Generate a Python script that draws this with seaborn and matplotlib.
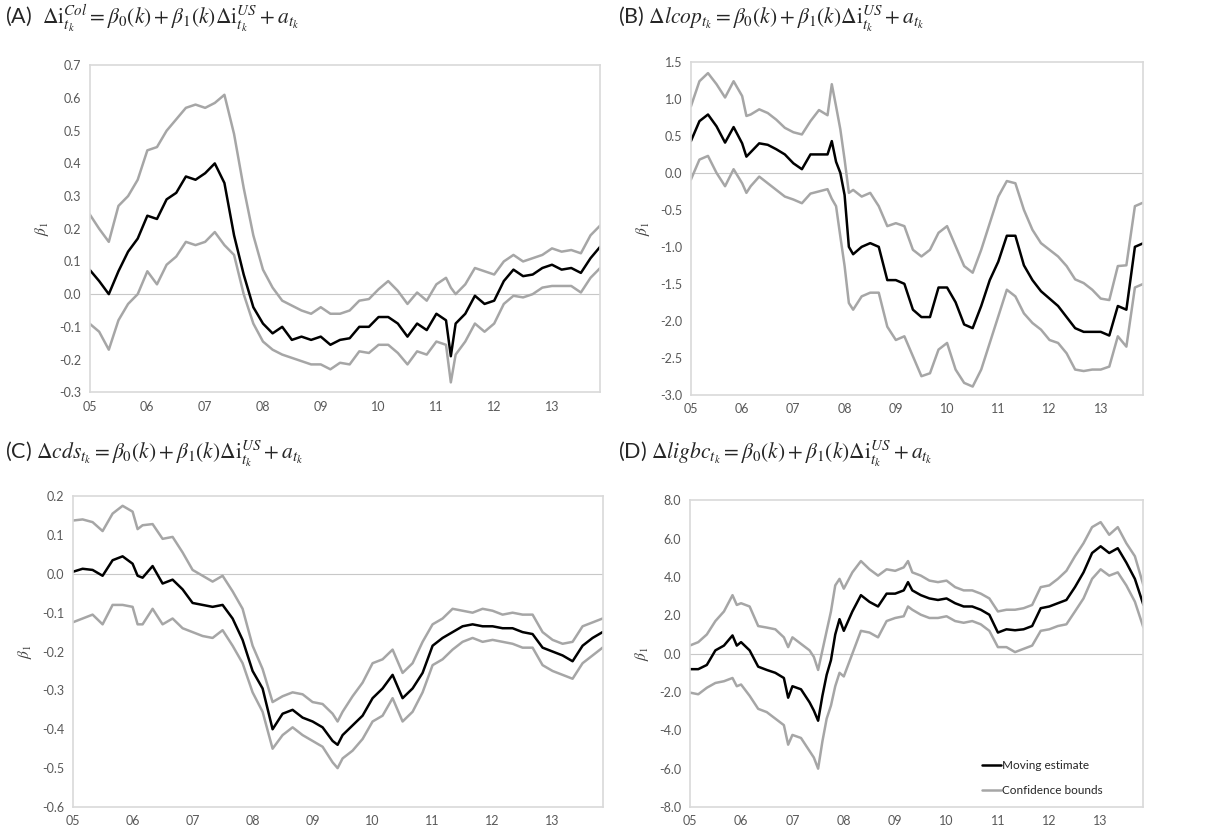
import pandas as pd
import seaborn as sns
import matplotlib.pyplot as plt
import matplotlib.ticker as ticker

# x = months since Jan 2005
year_ticks = [0, 12, 24, 36, 48, 60, 72, 84, 96]
year_labels = ['05', '06', '07', '08', '09', '10', '11', '12', '13']

# (A) colombian rate
a_months = [0, 2, 4, 6, 8, 10, 12, 14, 16, 18, 20, 22, 24, 26, 28, 30, 32, 34, 36, 38,
            40, 42, 44, 46, 48, 50, 52, 54, 56, 58, 60, 62, 64, 66, 68, 70, 72, 74, 75,
            76, 78, 80, 82, 84, 86, 88, 90, 92, 94, 96, 98, 100, 102, 104, 106]
a_est = [0.075, 0.04, 0.0, 0.07, 0.13, 0.17, 0.24, 0.23, 0.29, 0.31, 0.36, 0.35, 0.37, 0.40,
         0.34, 0.18, 0.06, -0.04, -0.09, -0.12, -0.10, -0.14, -0.13, -0.14, -0.13, -0.155,
         -0.14, -0.135, -0.10, -0.10, -0.07, -0.07, -0.09, -0.13, -0.09, -0.11, -0.06, -0.08,
         -0.19, -0.09, -0.06, -0.005, -0.03, -0.02, 0.04, 0.075, 0.055, 0.06, 0.08, 0.09,
         0.075, 0.08, 0.065, 0.11, 0.145]
a_up = [0.245, 0.20, 0.16, 0.27, 0.30, 0.35, 0.44, 0.45, 0.50, 0.535, 0.57, 0.58, 0.57, 0.585,
        0.61, 0.49, 0.325, 0.18, 0.075, 0.02, -0.02, -0.035, -0.05, -0.06, -0.04, -0.06,
        -0.06, -0.05, -0.02, -0.015, 0.015, 0.04, 0.01, -0.03, 0.005, -0.02, 0.03, 0.05,
        0.02, 0.0, 0.03, 0.08, 0.07, 0.06, 0.10, 0.12, 0.10, 0.11, 0.12, 0.14, 0.13, 0.135,
        0.125, 0.18, 0.21]
a_lo = [-0.09, -0.115, -0.17, -0.08, -0.03, 0.0, 0.07, 0.03, 0.09, 0.115, 0.16, 0.15, 0.16,
        0.19, 0.15, 0.12, 0.0, -0.09, -0.145, -0.17, -0.185, -0.195, -0.205, -0.215, -0.215,
        -0.23, -0.21, -0.215, -0.175, -0.18, -0.155, -0.155, -0.18, -0.215, -0.175, -0.185,
        -0.145, -0.155, -0.27, -0.185, -0.145, -0.09, -0.115, -0.09, -0.03, -0.005, -0.01,
        0.0, 0.02, 0.025, 0.025, 0.025, 0.005, 0.05, 0.08]

# (B) peso
b_months = [0, 2, 4, 6, 8, 10, 12, 13, 14, 16, 18, 20, 22, 24, 26, 28, 30, 32, 33, 34, 35,
            36, 37, 38, 40, 42, 44, 46, 48, 50, 52, 54, 56, 58, 60, 62, 64, 66, 68, 70, 72,
            74, 76, 78, 80, 82, 84, 86, 88, 90, 92, 94, 96, 98, 100, 102, 104, 106]
b_est = [0.43, 0.70, 0.79, 0.63, 0.41, 0.62, 0.40, 0.22, 0.28, 0.40, 0.38, 0.32, 0.25, 0.13,
         0.05, 0.25, 0.25, 0.25, 0.43, 0.15, 0.0, -0.3, -1.0, -1.1, -1.0, -0.95, -1.0, -1.45,
         -1.45, -1.5, -1.85, -1.95, -1.95, -1.55, -1.55, -1.75, -2.05, -2.1, -1.8, -1.45,
         -1.2, -0.85, -0.85, -1.25, -1.45, -1.6, -1.7, -1.8, -1.95, -2.1, -2.15, -2.15,
         -2.15, -2.2, -1.8, -1.85, -1.0, -0.95]
b_up = [0.90, 1.24, 1.35, 1.20, 1.02, 1.24, 1.04, 0.77, 0.79, 0.86, 0.81, 0.72, 0.61, 0.55,
        0.52, 0.70, 0.85, 0.78, 1.20, 0.90, 0.59, 0.18, -0.27, -0.23, -0.32, -0.27, -0.45,
        -0.72, -0.68, -0.72, -1.04, -1.13, -1.04, -0.81, -0.72, -0.99, -1.26, -1.35, -1.04,
        -0.68, -0.32, -0.11, -0.14, -0.50, -0.77, -0.95, -1.04, -1.13, -1.26, -1.44, -1.49,
        -1.58, -1.70, -1.72, -1.26, -1.25, -0.45, -0.40]
b_lo = [-0.09, 0.18, 0.23, 0.0, -0.18, 0.05, -0.14, -0.27, -0.18, -0.05, -0.14, -0.23, -0.32,
        -0.36, -0.41, -0.28, -0.25, -0.22, -0.35, -0.45, -0.86, -1.26, -1.76, -1.85, -1.67,
        -1.62, -1.62, -2.08, -2.26, -2.21, -2.48, -2.75, -2.71, -2.39, -2.30, -2.66, -2.84,
        -2.89, -2.66, -2.30, -1.94, -1.58, -1.67, -1.90, -2.03, -2.12, -2.26, -2.30, -2.44,
        -2.66, -2.68, -2.66, -2.66, -2.62, -2.21, -2.35, -1.55, -1.50]

# (C) cds
c_months = [0, 2, 4, 6, 8, 10, 12, 13, 14, 16, 18, 20, 22, 24, 26, 28, 30, 32, 34, 36, 38,
            40, 42, 44, 46, 48, 50, 52, 53, 54, 56, 58, 60, 62, 64, 66, 68, 70, 72, 74, 76,
            78, 80, 82, 84, 86, 88, 90, 92, 94, 96, 98, 100, 102, 104, 106]
c_est = [0.005, 0.013, 0.01, -0.005, 0.035, 0.045, 0.026, -0.005, -0.01, 0.02, -0.025,
         -0.015, -0.04, -0.075, -0.08, -0.085, -0.08, -0.115, -0.17, -0.25, -0.295, -0.40,
         -0.36, -0.35, -0.37, -0.38, -0.395, -0.43, -0.44, -0.415, -0.39, -0.365, -0.32,
         -0.295, -0.26, -0.32, -0.295, -0.255, -0.185, -0.165, -0.15, -0.135, -0.13, -0.135,
         -0.135, -0.14, -0.14, -0.15, -0.155, -0.19, -0.20, -0.21, -0.225, -0.185, -0.165,
         -0.15]
c_up = [0.137, 0.14, 0.133, 0.11, 0.155, 0.175, 0.16, 0.115, 0.125, 0.128, 0.09, 0.095,
        0.055, 0.01, -0.005, -0.02, -0.005, -0.045, -0.09, -0.185, -0.245, -0.33, -0.315,
        -0.305, -0.31, -0.33, -0.335, -0.36, -0.38, -0.355, -0.315, -0.28, -0.23, -0.22,
        -0.195, -0.255, -0.23, -0.175, -0.13, -0.115, -0.09, -0.095, -0.10, -0.09, -0.095,
        -0.105, -0.10, -0.105, -0.105, -0.15, -0.17, -0.18, -0.175, -0.135, -0.125, -0.115]
c_lo = [-0.125, -0.115, -0.105, -0.13, -0.08, -0.08, -0.085, -0.13, -0.13, -0.09, -0.13,
        -0.115, -0.14, -0.15, -0.16, -0.165, -0.145, -0.185, -0.23, -0.305, -0.355, -0.45,
        -0.415, -0.395, -0.415, -0.43, -0.445, -0.485, -0.50, -0.475, -0.455, -0.425, -0.38,
        -0.365, -0.32, -0.38, -0.355, -0.305, -0.235, -0.22, -0.195, -0.175, -0.165, -0.175,
        -0.17, -0.175, -0.18, -0.19, -0.19, -0.235, -0.25, -0.26, -0.27, -0.23, -0.21, -0.19]

# (D) igbc
d_months = [0, 2, 4, 6, 8, 10, 11, 12, 14, 16, 18, 20, 22, 23, 24, 26, 28, 29, 30, 31, 32,
            33, 34, 35, 36, 38, 40, 42, 44, 46, 48, 50, 51, 52, 54, 56, 58, 60, 62, 64, 66,
            68, 70, 72, 74, 76, 78, 80, 82, 84, 86, 88, 90, 92, 94, 96, 98, 100, 102, 104, 106]
d_est = [-0.81, -0.81, -0.59, 0.17, 0.42, 0.95, 0.42, 0.6, 0.17, -0.68, -0.85, -1.0, -1.27,
         -2.3, -1.7, -1.86, -2.54, -2.97, -3.5, -2.2, -1.1, -0.34, 1.0, 1.8, 1.19, 2.2, 3.05,
         2.7, 2.46, 3.13, 3.13, 3.3, 3.73, 3.3, 3.05, 2.88, 2.8, 2.88, 2.63, 2.46, 2.46, 2.29,
         2.03, 1.1, 1.27, 1.22, 1.27, 1.44, 2.37, 2.46, 2.63, 2.8, 3.47, 4.24, 5.25, 5.6, 5.25,
         5.5, 4.75, 3.9, 2.54]
d_up = [0.42, 0.6, 1.0, 1.7, 2.2, 3.05, 2.54, 2.63, 2.46, 1.44, 1.36, 1.27, 0.85, 0.34, 0.85,
        0.51, 0.17, -0.17, -0.85, 0.17, 1.19, 2.2, 3.56, 3.9, 3.39, 4.24, 4.83, 4.4, 4.07, 4.4,
        4.32, 4.5, 4.83, 4.24, 4.07, 3.81, 3.73, 3.81, 3.47, 3.3, 3.3, 3.13, 2.88, 2.2, 2.29,
        2.29, 2.37, 2.54, 3.47, 3.56, 3.9, 4.32, 5.08, 5.76, 6.6, 6.86, 6.2, 6.6, 5.76, 5.08,
        3.56]
d_lo = [-2.03, -2.12, -1.78, -1.53, -1.44, -1.27, -1.7, -1.61, -2.2, -2.88, -3.05, -3.39,
        -3.73, -4.75, -4.24, -4.4, -5.08, -5.42, -6.0, -4.58, -3.39, -2.71, -1.7, -1.0, -1.19,
        0.0, 1.19, 1.1, 0.85, 1.7, 1.86, 1.95, 2.46, 2.29, 2.03, 1.86, 1.86, 1.95, 1.7, 1.61,
        1.7, 1.53, 1.19, 0.34, 0.34, 0.08, 0.25, 0.42, 1.19, 1.27, 1.44, 1.53, 2.2, 2.88, 3.9,
        4.4, 4.07, 4.24, 3.56, 2.71, 1.36]

sns.set_style('white')
plt.rcParams['font.family'] = ['Lato', 'DejaVu Sans']
plt.rcParams['mathtext.fontset'] = 'stix'
plt.rcParams['axes.unicode_minus'] = False

black = '#000000'
grey = '#a6a6a6'
frame = '#d9d9d9'
txt = '#595959'

fig = plt.figure(figsize=(12.1, 8.38), dpi=100)

panels = [
    ('A', [0.074, 0.532, 0.422, 0.39], a_months, a_est, a_up, a_lo,
     (-0.3, 0.7), [-0.3, -0.2, -0.1, 0.0, 0.1, 0.2, 0.3, 0.4, 0.5, 0.6, 0.7]),
    ('B', [0.571, 0.529, 0.374, 0.397], b_months, b_est, b_up, b_lo,
     (-3.0, 1.5), [-3.0, -2.5, -2.0, -1.5, -1.0, -0.5, 0.0, 0.5, 1.0, 1.5]),
    ('C', [0.060, 0.037, 0.438, 0.371], c_months, c_est, c_up, c_lo,
     (-0.6, 0.2), [-0.6, -0.5, -0.4, -0.3, -0.2, -0.1, 0.0, 0.1, 0.2]),
    ('D', [0.570, 0.037, 0.375, 0.366], d_months, d_est, d_up, d_lo,
     (-8.0, 8.0), [-8.0, -6.0, -4.0, -2.0, 0.0, 2.0, 4.0, 6.0, 8.0]),
]

axes = {}
for name, rect, mo, est, up, lo, ylim, yt in panels:
    ax = fig.add_axes(rect)
    axes[name] = ax
    ax.axhline(0, color='#c8c8c8', lw=0.8, zorder=1)
    sns.lineplot(x=mo, y=up, ax=ax, color=grey, lw=1.8, label='Confidence bounds')
    sns.lineplot(x=mo, y=lo, ax=ax, color=grey, lw=1.8)
    sns.lineplot(x=mo, y=est, ax=ax, color=black, lw=1.8, label='Moving estimate')
    ax.set_xlim(0, 106)
    ax.set_ylim(*ylim)
    ax.set_xticks(year_ticks)
    ax.set_xticklabels(year_labels)
    ax.set_yticks(yt)
    ax.yaxis.set_major_formatter(ticker.FuncFormatter(lambda v, p: f'{v:.1f}'))
    ax.tick_params(length=0, labelsize=9, labelcolor=txt, pad=6)
    for s in ax.spines.values():
        s.set_color(frame)
        s.set_linewidth(1.2)
    ax.set_ylabel(r'$\beta_1$', fontsize=11, color='#404040', labelpad=6)
    ax.legend().remove()

# legend only in panel D
h, l = axes['D'].get_legend_handles_labels()
order = [l.index('Moving estimate'), l.index('Confidence bounds')]
axes['D'].legend([h[i] for i in order], [l[i] for i in order], loc='lower left',
                 bbox_to_anchor=(0.62, 0.0), frameon=False, fontsize=8.5,
                 handlelength=1.6, handletextpad=0.1, labelspacing=1.2, labelcolor='#262626')

tail = r'= \beta_0(k) + \beta_1(k)\Delta \mathrm{i}^{US}_{t_k} + a_{t_k}$'
fig.text(0.004, 0.978, r'(A)  $\Delta \mathrm{i}^{Col}_{t_k} ' + tail, fontsize=15.5, va='center')
fig.text(0.511, 0.978, r'(B) $\Delta lcop_{t_k} ' + tail, fontsize=15.5, va='center')
fig.text(0.004, 0.459, r'(C) $\Delta cds_{t_k} ' + tail, fontsize=15.5, va='center')
fig.text(0.511, 0.459, r'(D) $\Delta ligbc_{t_k} ' + tail, fontsize=15.5, va='center')

plt.savefig('out.png', dpi=100)
